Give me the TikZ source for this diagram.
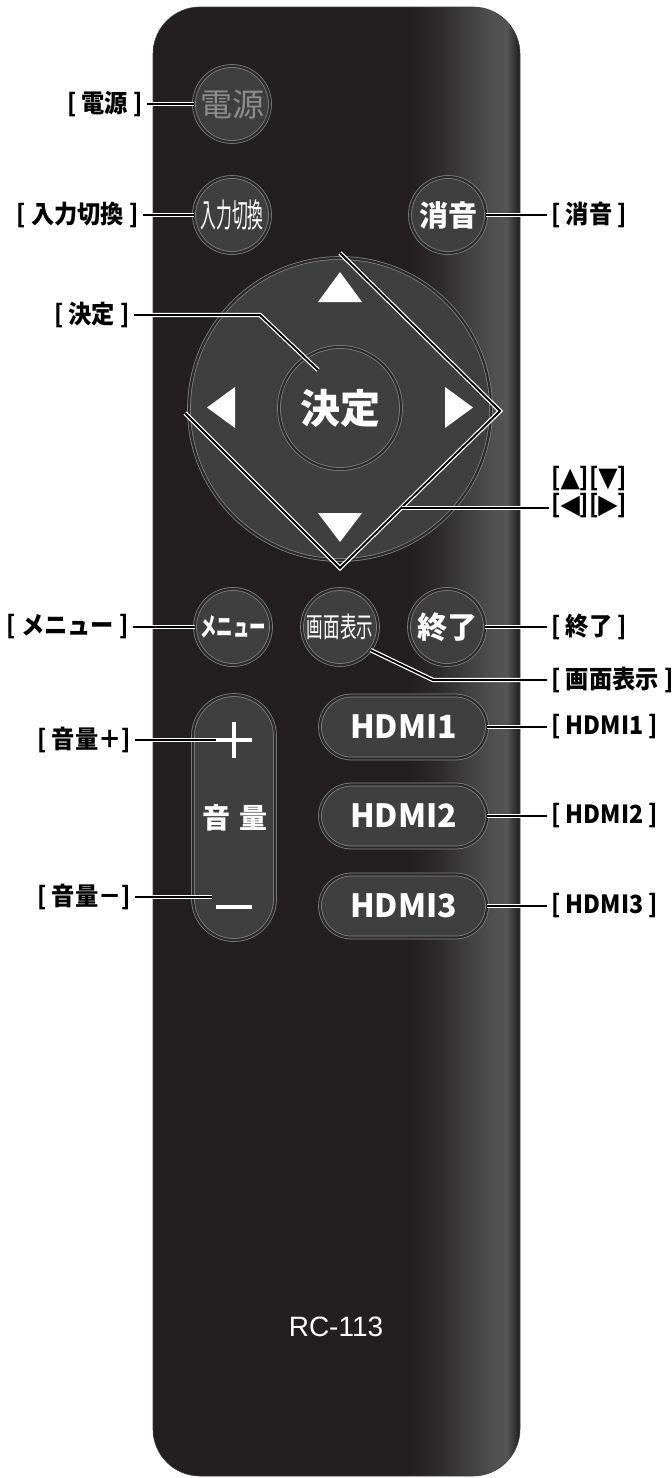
\documentclass[tikz,border=0pt]{standalone}
\usepackage{fontspec}
\usepackage{graphicx}
\newfontfamily\jp{Noto Sans CJK JP}
\newfontfamily\symf{DejaVu Sans}
\newfontfamily\latf{Liberation Sans}
\newcommand\myfs[1]{\fontsize{#1}{#1}\selectfont}
\newcommand\lb[1]{\scalebox{0.93}[1]{#1}}
\newcommand\tr[1]{{\symf\myfs{27}#1}}
\definecolor{bodyc}{HTML}{231F20}
\definecolor{shA}{HTML}{2E2B2C}
\definecolor{shB}{HTML}{424242}
\definecolor{shC}{HTML}{515151}
\definecolor{shD}{HTML}{555555}
\definecolor{shE}{HTML}{3C3C3C}
\definecolor{shF}{HTML}{1E1E1E}
\definecolor{btnc}{HTML}{3F3F3F}
\definecolor{gapc}{HTML}{2B2B2B}
\definecolor{ringc}{HTML}{858585}
\definecolor{powc}{HTML}{8C8C8C}
\pgfdeclarehorizontalshading{remote}{100bp}{%
 color(0bp)=(bodyc); color(25bp)=(bodyc); color(60bp)=(bodyc);
 color(64.1bp)=(shA); color(68.2bp)=(shB); color(71.6bp)=(shC);
 color(73.2bp)=(shD); color(74bp)=(shE); color(75bp)=(shF); color(100bp)=(shF)}
\tikzset{
 btn/.style={circle, draw=ringc, double=gapc, double distance=2.2pt, line width=0.75pt,
   fill=btnc, minimum size=76pt, inner sep=0pt, text=white},
 pill/.style={rectangle, draw=ringc, double=gapc, double distance=2.2pt, line width=0.75pt,
   fill=btnc, inner sep=0pt, text=white},
 hdmi/.style={pill, minimum width=167pt, minimum height=63pt, rounded corners=31.5pt,
   font={\jp\bfseries\myfs{32}}},
 lbl/.style={font={\jp\bfseries\myfs{25}}, text=black, inner xsep=4pt, inner ysep=0pt},
 arrlbl/.style={font={\jp\bfseries\myfs{25}}, text=black, inner xsep=2pt, inner ysep=0pt},
 conn/.style={draw=white, double=black, double distance=1.9pt, line width=1.25pt},
 tri/.style={fill=white}
}
\begin{document}
\begin{tikzpicture}[x=1pt, y=-1pt]
\useasboundingbox (0,0) rectangle (672,1478);
% body
\shade[shading=remote, rounded corners=47pt] (153,7) rectangle (520,1476);
\draw[black!75, line width=0.6pt, rounded corners=47pt] (153,7) rectangle (520,1476);

% round buttons
\node[btn] (b-power) at (232,104) {\jp\myfs{32}\color{powc}電源};
\node[btn] (b-input) at (232,215) {\scalebox{0.48}[1]{\jp\myfs{33}入力切換}};
\node[btn] (b-mute) at (448,215) {\jp\bfseries\myfs{29}消音};

% d-pad
\node[btn, minimum size=302pt] (dpad) at (340,409) {};
\node[btn, minimum size=122pt] (b-ok) at (340,408) {\jp\bfseries\myfs{40}決定};
\fill[tri] (318,302) -- (362,302) -- (340,272) -- cycle;
\fill[tri] (318,513) -- (362,513) -- (340,542) -- cycle;
\fill[tri] (235,387) -- (235,428) -- (207,407.5) -- cycle;
\fill[tri] (445,387) -- (445,428) -- (473,407.5) -- cycle;

% row of three
\node[btn] (b-menu) at (233,627) {\scalebox{0.63}[1]{\jp\bfseries\myfs{26}メニュー}};
\node[btn] (b-disp) at (340,627) {\scalebox{0.59}[1]{\jp\myfs{28}画面表示}};
\node[btn] (b-end) at (447,627) {\jp\bfseries\myfs{30}終了};

% volume pill
\node[pill, minimum width=82pt, minimum height=245pt, rounded corners=41pt] (vol) at (234,817.5) {};
\node[text=white, font={\jp\bfseries\myfs{28}}, inner sep=0pt] (vol-t) at (235,818) {音\hspace{10pt}量};
\node[minimum width=35pt, minimum height=35pt, inner sep=0pt] (plus) at (234,740) {};
\draw[white, line width=3.2pt] (plus.north) -- (plus.south) (plus.west) -- (plus.east);
\node[minimum width=35pt, minimum height=3pt, inner sep=0pt] (minus) at (234,907) {};
\draw[white, line width=3.2pt] (minus.west) -- (minus.east);

% HDMI pills
\node[hdmi] (b-h1) at (403.5,727) {HDMI1};
\node[hdmi] (b-h2) at (403.5,816) {HDMI2};
\node[hdmi] (b-h3) at (403.5,906) {HDMI3};

% model
\node[font={\latf\myfs{28}}, text=white, inner sep=0pt] (model) at (336,1327) {RC-113};

% labels left
\node[lbl, anchor=east] (l-power) at (147,104) {\lb{[ 電源 ]}};
\node[lbl, anchor=east] (l-input) at (143,215) {\lb{[ 入力切換 ]}};
\node[lbl, anchor=east] (l-ok) at (134,315) {\lb{[ 決定 ]}};
\node[lbl, anchor=east] (l-menu) at (133,627) {\lb{[ メニュー ]}};
\node[lbl, anchor=east] (l-volp) at (135,740) {\lb{[ 音量＋]}};
\node[lbl, anchor=east] (l-volm) at (135,897) {\lb{[ 音量－]}};
% labels right
\node[lbl, anchor=west] (l-mute) at (547,215) {\lb{[ 消音 ]}};
\node[arrlbl, anchor=west] (l-arr1) at (549,479) {\lb{[\tr{▲}][\tr{▼}]}};
\node[arrlbl, anchor=west] (l-arr2) at (549,506) {\lb{[\tr{◀}][\tr{▶}]}};
\node[lbl, anchor=west] (l-end) at (547,627) {\lb{[ 終了 ]}};
\node[lbl, anchor=west] (l-disp) at (547,680) {\lb{[ 画面表示 ]}};
\node[lbl, anchor=west] (l-h1) at (547,727) {\lb{[ HDMI1 ]}};
\node[lbl, anchor=west] (l-h2) at (547,816) {\lb{[ HDMI2 ]}};
\node[lbl, anchor=west] (l-h3) at (547,906) {\lb{[ HDMI3 ]}};

% connector points
\coordinate (ok-bend) at (260,315);
\coordinate (ok-end) at (318,370);
\coordinate (d-l) at (185,413);
\coordinate (d-b) at (340,568);
\coordinate (d-r) at (500,411);
\coordinate (d-t) at (340,253);
\coordinate (d-tap) at (402,508);
\coordinate (disp-bend) at (433,680);
\coordinate (minus-tip) at (212,897);

% connectors
\draw[conn] (l-power.east) -- (b-power.west);
\draw[conn] (l-input.east) -- (b-input.west);
\draw[conn] (b-mute.east) -- (l-mute.west);
\draw[conn] (l-ok.east) -- (ok-bend) -- (ok-end);
\draw[conn] (d-l) -- (d-b) -- (d-r) -- (d-t);
\draw[conn] (d-tap) -- (d-tap -| l-arr2.west);
\draw[conn] (l-menu.east) -- (b-menu.west);
\draw[conn] (b-end.east) -- (l-end.west);
\draw[conn] (b-disp.-37) -- (disp-bend) -- (disp-bend -| l-disp.west);
\draw[conn] (b-h1.east) -- (l-h1.west);
\draw[conn] (b-h2.east) -- (l-h2.west);
\draw[conn] (b-h3.east) -- (l-h3.west);
\draw[conn] (l-volp.east) -- (plus.west);
\draw[conn] (l-volm.east) -- (minus-tip);
\end{tikzpicture}
\end{document}
